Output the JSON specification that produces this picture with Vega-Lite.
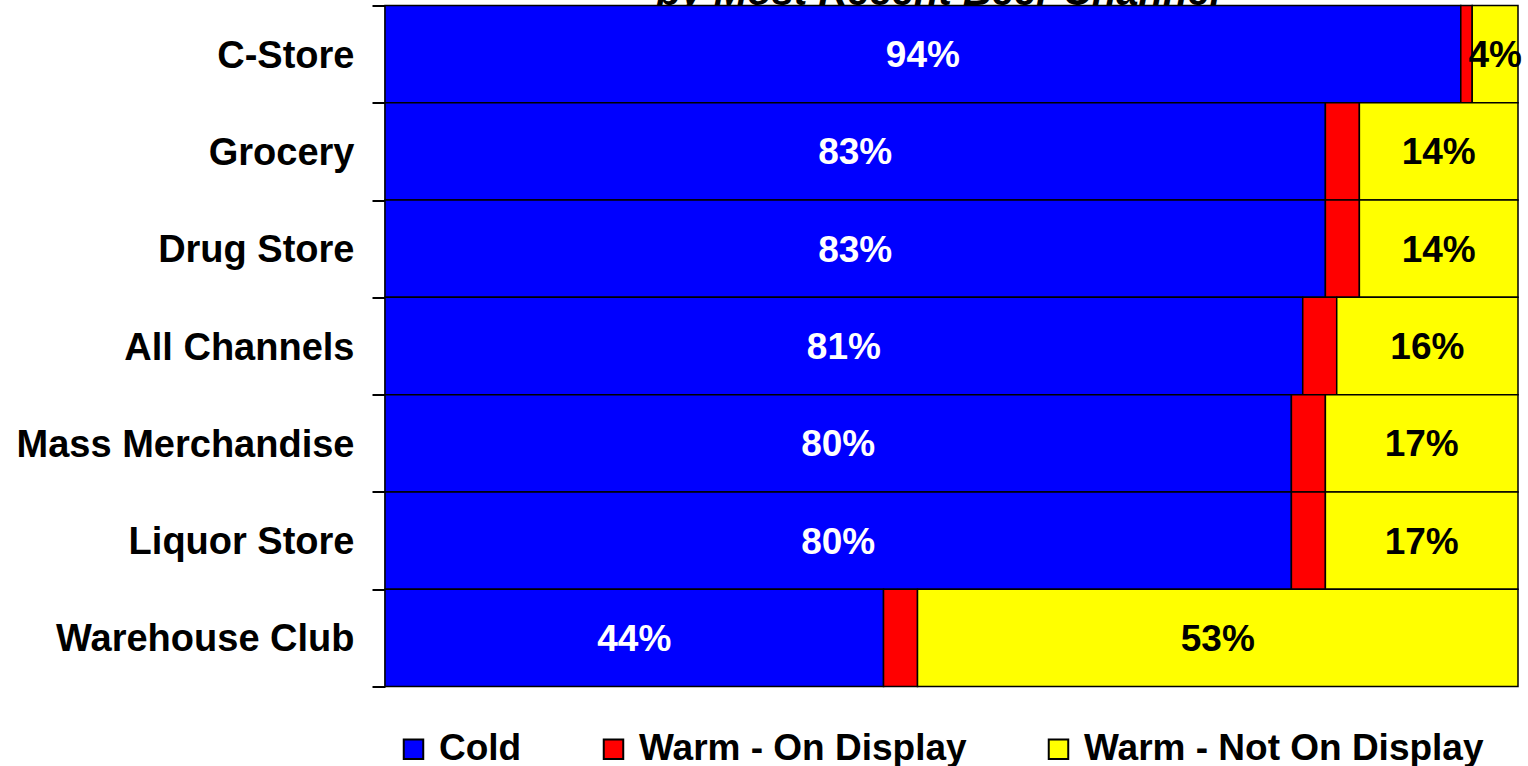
{
  "$schema": "https://vega.github.io/schema/vega-lite/v6.json",
  "autosize": {"type": "none"},
  "width": 1133,
  "height": 681,
  "padding": {"left": 385, "top": 5.5, "right": 10, "bottom": 79.5},
  "background": "white",
  "config": {
    "view": {"stroke": null},
    "font": "Liberation Sans, Arial, sans-serif"
  },
  "data": {
    "values": [
      {"channel": "C-Store", "type": "Cold", "rank": 1, "share": 0.94},
      {"channel": "C-Store", "type": "Warm - On Display", "rank": 2, "share": 0.01},
      {"channel": "C-Store", "type": "Warm - Not On Display", "rank": 3, "share": 0.04},
      {"channel": "Grocery", "type": "Cold", "rank": 1, "share": 0.83},
      {"channel": "Grocery", "type": "Warm - On Display", "rank": 2, "share": 0.03},
      {"channel": "Grocery", "type": "Warm - Not On Display", "rank": 3, "share": 0.14},
      {"channel": "Drug Store", "type": "Cold", "rank": 1, "share": 0.83},
      {"channel": "Drug Store", "type": "Warm - On Display", "rank": 2, "share": 0.03},
      {"channel": "Drug Store", "type": "Warm - Not On Display", "rank": 3, "share": 0.14},
      {"channel": "All Channels", "type": "Cold", "rank": 1, "share": 0.81},
      {"channel": "All Channels", "type": "Warm - On Display", "rank": 2, "share": 0.03},
      {"channel": "All Channels", "type": "Warm - Not On Display", "rank": 3, "share": 0.16},
      {"channel": "Mass Merchandise", "type": "Cold", "rank": 1, "share": 0.80},
      {"channel": "Mass Merchandise", "type": "Warm - On Display", "rank": 2, "share": 0.03},
      {"channel": "Mass Merchandise", "type": "Warm - Not On Display", "rank": 3, "share": 0.17},
      {"channel": "Liquor Store", "type": "Cold", "rank": 1, "share": 0.80},
      {"channel": "Liquor Store", "type": "Warm - On Display", "rank": 2, "share": 0.03},
      {"channel": "Liquor Store", "type": "Warm - Not On Display", "rank": 3, "share": 0.17},
      {"channel": "Warehouse Club", "type": "Cold", "rank": 1, "share": 0.44},
      {"channel": "Warehouse Club", "type": "Warm - On Display", "rank": 2, "share": 0.03},
      {"channel": "Warehouse Club", "type": "Warm - Not On Display", "rank": 3, "share": 0.53}
    ]
  },
  "encoding": {
    "y": {
      "field": "channel",
      "type": "nominal",
      "sort": null,
      "scale": {"paddingInner": 0, "paddingOuter": 0},
      "axis": {
        "title": null,
        "domain": true,
        "domainColor": "black",
        "domainWidth": 2,
        "ticks": true,
        "tickBand": "extent",
        "tickColor": "black",
        "tickWidth": 2,
        "tickSize": 13,
        "labelPadding": 18,
        "labelFontSize": 38,
        "labelFontWeight": "bold",
        "labelColor": "black",
        "labelLimit": 400,
        "labelOffset": 2
      }
    }
  },
  "layer": [
    {
      "mark": {"type": "bar", "stroke": "black", "strokeWidth": 1.5},
      "encoding": {
        "x": {
          "field": "share",
          "type": "quantitative",
          "stack": "normalize",
          "scale": {"domain": [0, 1], "nice": false},
          "axis": {
            "orient": "top",
            "title": "by Most Recent Beer Channel",
            "titleFont": "Liberation Sans, Arial, sans-serif",
            "titleFontSize": 40,
            "titleFontWeight": "bold",
            "titleFontStyle": "italic",
            "titleColor": "black",
            "titleAnchor": "middle",
            "titleAlign": "center",
            "titleBaseline": "alphabetic",
            "titleX": 553,
            "titleY": -1.5,
            "labels": false,
            "ticks": false,
            "domain": false,
            "grid": false,
            "zindex": 0
          }
        },
        "order": {"field": "rank", "type": "quantitative"},
        "color": {
          "field": "type",
          "type": "nominal",
          "scale": {
            "domain": ["Cold", "Warm - On Display", "Warm - Not On Display"],
            "range": ["#0000FF", "#FF0000", "#FFFF00"]
          },
          "legend": {
            "title": null,
            "orient": "none",
            "direction": "horizontal",
            "legendX": 10,
            "legendY": 725,
            "symbolType": "square",
            "symbolSize": 380,
            "symbolStrokeColor": "black",
            "symbolStrokeWidth": 2,
            "symbolOpacity": 1,
            "labelFontSize": 37,
            "labelFontWeight": "bold",
            "labelColor": "black",
            "labelOffset": 7,
            "labelLimit": 600,
            "columnPadding": 73
          }
        }
      }
    },
    {
      "mark": {"type": "text", "fontSize": 37, "fontWeight": "bold", "align": "center", "baseline": "middle", "dy": 2},
      "encoding": {
        "x": {
          "field": "share",
          "type": "quantitative",
          "stack": "normalize",
          "bandPosition": 0.5
        },
        "detail": {"field": "type", "type": "nominal"},
        "order": {"field": "rank", "type": "quantitative"},
        "text": {
          "condition": {
            "test": "datum.type !== 'Warm - On Display'",
            "field": "share",
            "type": "quantitative",
            "format": ".0%"
          },
          "value": ""
        },
        "color": {
          "condition": {"test": "datum.type === 'Cold'", "value": "white"},
          "value": "black"
        }
      }
    }
  ]
}
